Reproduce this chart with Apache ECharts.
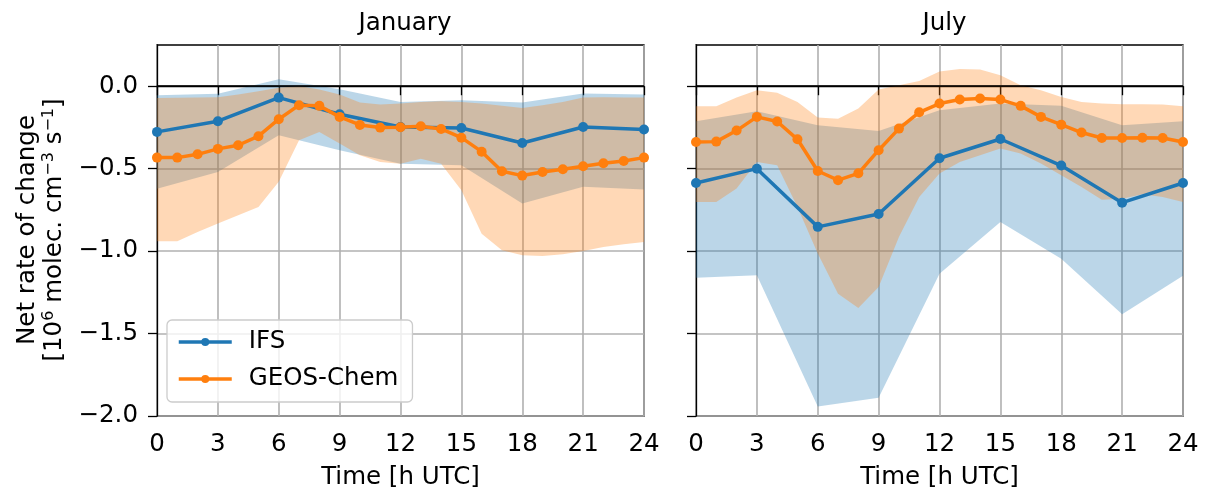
<!DOCTYPE html>
<html>
<head>
<meta charset="utf-8">
<script src="https://cdn.jsdelivr.net/npm/echarts@6/dist/echarts.min.js"></script>
<style>
html,body{margin:0;padding:0;background:#fff;}
#chart{width:1209px;height:492px;}
</style>
</head>
<body>
<div id="chart"></div>
<script>
// ---------------- data ----------------
const hours = [0,1,2,3,4,5,6,7,8,9,10,11,12,13,14,15,16,17,18,19,20,21,22,23,24];
const hours3 = [0,3,6,9,12,15,18,21,24];
const panelTitles = ['January', 'July'];
const seriesNames = ['IFS', 'GEOS-Chem'];
const xTicks = [0,3,6,9,12,15,18,21,24];
const yTicks = [-2.0,-1.5,-1.0,-0.5,0.0];

// January
const janIFS      = [-0.277,-0.212,-0.069,-0.170,-0.247,-0.253,-0.344,-0.247,-0.263];
const janIFSUpper = [-0.055,-0.045, 0.042,-0.018,-0.095,-0.085,-0.099,-0.044,-0.050];
const janIFSLower = [-0.622,-0.520,-0.297,-0.388,-0.470,-0.480,-0.712,-0.610,-0.627];
const janGC      = [-0.433,-0.433,-0.413,-0.380,-0.358,-0.303,-0.200,-0.115,-0.119,-0.186,-0.235,-0.251,-0.249,-0.243,-0.259,-0.312,-0.397,-0.516,-0.542,-0.520,-0.504,-0.485,-0.467,-0.453,-0.433];
const janGCUpper = [-0.071,-0.070,-0.069,-0.067,-0.050,-0.030,-0.010, 0.002,-0.020,-0.050,-0.099,-0.111,-0.105,-0.095,-0.091,-0.095,-0.105,-0.119,-0.132,-0.115,-0.095,-0.069,-0.067,-0.068,-0.069];
const janGCLower = [-0.940,-0.940,-0.884,-0.833,-0.783,-0.732,-0.580,-0.328,-0.278,-0.348,-0.419,-0.459,-0.470,-0.440,-0.470,-0.631,-0.894,-0.995,-1.025,-1.030,-1.019,-0.999,-0.975,-0.959,-0.944];

// July
const julIFS      = [-0.587,-0.500,-0.853,-0.775,-0.437,-0.320,-0.481,-0.706,-0.587];
const julIFSUpper = [-0.212,-0.152,-0.237,-0.271,-0.146,-0.105,-0.118,-0.237,-0.212];
const julIFSLower = [-1.161,-1.147,-1.942,-1.889,-1.137,-0.823,-1.046,-1.383,-1.150];
const julGC      = [-0.338,-0.336,-0.269,-0.186,-0.214,-0.322,-0.514,-0.570,-0.528,-0.388,-0.257,-0.158,-0.105,-0.081,-0.075,-0.081,-0.119,-0.186,-0.233,-0.281,-0.314,-0.314,-0.312,-0.314,-0.338];
const julGCUpper = [-0.121,-0.121,-0.069,-0.024,-0.040,-0.095,-0.190,-0.198,-0.135,-0.020, 0.006, 0.032, 0.090, 0.105, 0.101, 0.067, 0.006,-0.024,-0.065,-0.095,-0.105,-0.109,-0.109,-0.111,-0.121];
const julGCLower = [-0.702,-0.702,-0.621,-0.459,-0.479,-0.732,-1.015,-1.258,-1.345,-1.218,-0.914,-0.672,-0.530,-0.459,-0.419,-0.378,-0.408,-0.469,-0.540,-0.611,-0.688,-0.682,-0.655,-0.672,-0.702];

// ---------------- styling ----------------
const BLUE = '#1f77b4', ORANGE = '#ff7f0e';
const FONT = 'DejaVu Sans';
const FS = 24.5;
const LW = 3.5;

const fmtY = v => (v < 0 ? '\u2212' : '') + Math.abs(v).toFixed(1);

function bandSeries(idx, xs, lo, hi, color) {
  return {
    type: 'custom', xAxisIndex: idx, yAxisIndex: idx, silent: true, z: 1,
    data: [0],
    renderItem: function (params, api) {
      const pts = [];
      for (let i = 0; i < xs.length; i++) pts.push(api.coord([xs[i], hi[i]]));
      for (let i = xs.length - 1; i >= 0; i--) pts.push(api.coord([xs[i], lo[i]]));
      return { type: 'polygon', shape: { points: pts }, style: { fill: color, opacity: 0.3 } };
    }
  };
}
function lineSeries(idx, name, xs, ys, color, z) {
  return {
    type: 'line', name: name, xAxisIndex: idx, yAxisIndex: idx, z: z,
    data: xs.map((x, i) => [x, ys[i]]),
    symbol: 'circle', symbolSize: 10, showSymbol: true,
    lineStyle: { color: color, width: LW }, itemStyle: { color: color },
    emphasis: { disabled: true }
  };
}
function zeroLine(idx) {
  return {
    type: 'line', xAxisIndex: idx, yAxisIndex: idx, data: [], z: 2,
    markLine: { silent: true, symbol: 'none', label: { show: false },
      lineStyle: { color: '#000', width: 1.5, type: 'solid' }, data: [{ yAxis: 0 }] }
  };
}

const grids = [
  { left: 157, top: 45, width: 487, height: 371, outerBoundsMode: 'none', containLabel: false, show: true, borderColor: '#000', borderWidth: 1.3, backgroundColor: 'transparent' },
  { left: 696, top: 45, width: 487, height: 371, outerBoundsMode: 'none', containLabel: false, show: true, borderColor: '#000', borderWidth: 1.3, backgroundColor: 'transparent' }
];

function xAxis(idx) {
  return {
    type: 'value', gridIndex: idx, min: 0, max: 24, interval: 3,
    name: 'Time [h UTC]', nameLocation: 'middle', nameGap: 49,
    nameTextStyle: { fontFamily: FONT, fontSize: FS, color: '#000' },
    axisLine: { show: true, lineStyle: { color: '#000', width: 1.3 } },
    axisTick: { show: true, length: 9, lineStyle: { color: '#000', width: 1.3 } },
    axisLabel: { show: true, margin: 16, fontFamily: FONT, fontSize: FS, color: '#000' },
    splitLine: { show: true, lineStyle: { color: '#b0b0b0', width: 1.6 } }
  };
}
function yAxis(idx) {
  return {
    type: 'value', gridIndex: idx, min: -2.0, max: 0.25,
    axisLine: { show: true, lineStyle: { color: '#000', width: 1.3 } },
    axisTick: { show: true, length: 9, customValues: yTicks, lineStyle: { color: '#000', width: 1.3 } },
    axisLabel: { show: idx === 0, customValues: yTicks, margin: 19, formatter: fmtY, fontFamily: FONT, fontSize: FS, color: '#000' },
    splitLine: { show: true, lineStyle: { color: '#b0b0b0', width: 1.6 } }
  };
}

const option = {
  animation: false,
  backgroundColor: '#fff',
  textStyle: { fontFamily: FONT },
  title: [
    { text: panelTitles[0], left: 400, top: 6, textAlign: 'center', textStyle: { fontFamily: FONT, fontSize: FS, fontWeight: 'normal', color: '#000' } },
    { text: panelTitles[1], left: 939.5, top: 6, textAlign: 'center', textStyle: { fontFamily: FONT, fontSize: FS, fontWeight: 'normal', color: '#000' } }
  ],
  grid: grids,
  xAxis: [xAxis(0), xAxis(1)],
  yAxis: [yAxis(0), yAxis(1)],
  legend: {
    data: seriesNames,
    orient: 'vertical', left: 167, top: 320,
    padding: [8, 14, 9, 10],
    itemWidth: 53, itemHeight: 10, itemGap: 9,
    lineStyle: { width: LW },
    backgroundColor: 'rgba(255,255,255,0.8)', borderColor: '#cccccc', borderWidth: 1.3, borderRadius: 5,
    textStyle: { fontFamily: FONT, fontSize: FS, color: '#000', lineHeight: 28, padding: [0, 0, 0, 12] },
    selectedMode: false
  },
  graphic: [{
    type: 'text', x: 41, y: 230, rotation: Math.PI / 2,
    style: {
      text: 'Net rate of change\n[10{sup|6} molec. cm{sup|\u22123} s{sup|\u22121}]',
      fontFamily: FONT, fontSize: FS, fill: '#000', align: 'center', verticalAlign: 'middle', lineHeight: 27,
      rich: { sup: { fontFamily: FONT, fontSize: 16, verticalAlign: 'top', lineHeight: 27, padding: [0, 0, 8, 0] } }
    }
  }],
  series: [
    bandSeries(0, hours3, janIFSLower, janIFSUpper, BLUE),
    bandSeries(0, hours, janGCLower, janGCUpper, ORANGE),
    zeroLine(0),
    lineSeries(0, seriesNames[0], hours3, janIFS, BLUE, 3),
    lineSeries(0, seriesNames[1], hours, janGC, ORANGE, 4),
    bandSeries(1, hours3, julIFSLower, julIFSUpper, BLUE),
    bandSeries(1, hours, julGCLower, julGCUpper, ORANGE),
    zeroLine(1),
    lineSeries(1, seriesNames[0] + ' ', hours3, julIFS, BLUE, 3),
    lineSeries(1, seriesNames[1] + ' ', hours, julGC, ORANGE, 4)
  ]
};

const chart = echarts.init(document.getElementById('chart'), null, { renderer: 'canvas' });
chart.setOption(option);
</script>
</body>
</html>
